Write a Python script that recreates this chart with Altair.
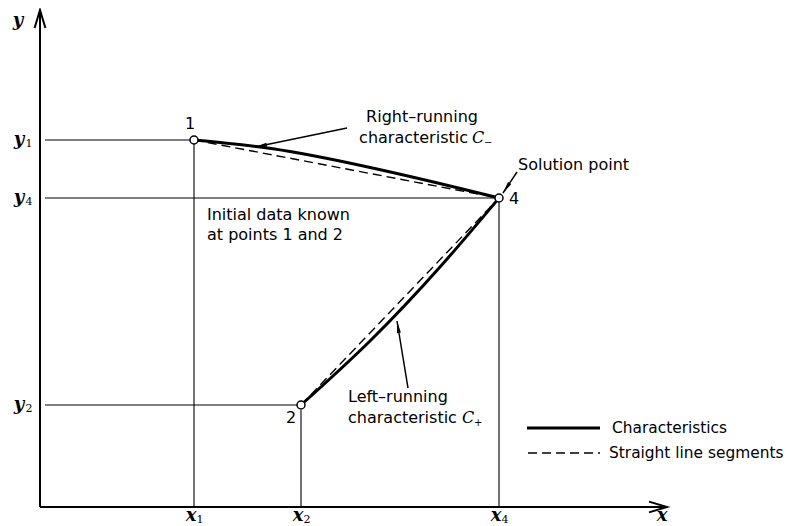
import math
import altair as alt
import pandas as pd

# ---------------- data (drawing units, origin at the axes' corner) ----------------
# characteristic curves
cminus_x = [154, 250, 370, 459]
cminus_y = [367, 355.5, 330.5, 309]
cplus_x = [261, 330, 400, 459]
cplus_y = [102, 166, 240, 309]

# nodes 1, 2, 4
node_labels = ["1", "2", "4"]
node_x = [154, 261, 459]
node_y = [367, 102, 309]

# axis ticks: symbol + subscript
x_tick_subs = ["1", "2", "4"]
x_tick_pos = [154, 261, 459]
y_tick_subs = ["1", "4", "2"]
y_tick_pos = [367, 309, 102]
x_axis_end = 627
y_axis_end = 497

# ---------------- helpers ----------------
XD = [-32, 747]
YD = [-19, 499]
W, H = 779, 518


def X(f="x"):
    return alt.X(f"{f}:Q", scale=alt.Scale(domain=XD, nice=False, zero=False), axis=None)


def Y(f="y"):
    return alt.Y(f"{f}:Q", scale=alt.Scale(domain=YD, nice=False, zero=False), axis=None)


def segs(rows, **kw):
    df = pd.DataFrame(rows, columns=["x", "y", "x2", "y2"])
    return alt.Chart(df).mark_rule(color="black", **kw).encode(
        x=X(), y=Y(), x2=alt.X2("x2:Q"), y2=alt.Y2("y2:Q")
    )


def head(x0, y0, x1, y1, L):
    dx, dy = x1 - x0, y1 - y0
    n = math.hypot(dx, dy)
    ux, uy = dx / n, dy / n
    return dict(x=x1 - ux * L / 2, y=y1 - uy * L / 2,
                angle=math.degrees(math.atan2(ux, uy)) % 360)


# ---------------- axes ----------------
axes = segs([[0, 0, x_axis_end, 0], [0, 0, 0, y_axis_end]], strokeWidth=2)
axis_heads = alt.Chart(pd.DataFrame([
    head(0, 0, x_axis_end, 0, 18), head(0, 0, 0, y_axis_end, 18)
])).mark_point(shape="M-0.6,1L0,-1L0.6,1", filled=False, size=324,
               color="black", strokeWidth=2, opacity=1).encode(
    x=X(), y=Y(), angle=alt.Angle("angle:Q", scale=None))

# ---------------- guide lines ----------------
guide_rows = []
for yv, xv in zip([node_y[0], node_y[2], node_y[1]], [node_x[0], node_x[2], node_x[1]]):
    guide_rows.append([5, yv, xv, yv])
guide_rows.append([node_x[0], node_y[0], node_x[0], 0])
guide_rows.append([node_x[1], node_y[1] - 5, node_x[1], 0])
guide_rows.append([node_x[2], node_y[2], node_x[2], 0])
guides = segs(guide_rows, strokeWidth=1.1)

# ---------------- characteristics ----------------
cm = pd.DataFrame({"x": cminus_x, "y": cminus_y})
cp = pd.DataFrame({"x": cplus_x, "y": cplus_y})
solid_m = alt.Chart(cm).mark_line(color="black", strokeWidth=3, interpolate="natural").encode(x=X(), y=Y(), order="x:Q")
solid_p = alt.Chart(cp).mark_line(color="black", strokeWidth=3, interpolate="natural").encode(x=X(), y=Y(), order="x:Q")
dashed = segs([[node_x[0], node_y[0], node_x[2], node_y[2]],
               [node_x[1], node_y[1], node_x[2], node_y[2]]],
              strokeWidth=1.4, strokeDash=[9, 5])

# ---------------- annotation arrows ----------------
arrows = [(307, 379, 215, 360), (477, 335, 463, 314), (368, 119, 357, 186)]
arrow_lines = segs([list(a) for a in arrows], strokeWidth=1.5)
arrow_heads = alt.Chart(pd.DataFrame([head(*a, 12) for a in arrows])).mark_point(
    shape="M0,-1L0.33,1L-0.33,1Z", filled=True, size=144, color="black", opacity=1
).encode(x=X(), y=Y(), angle=alt.Angle("angle:Q", scale=None))

# ---------------- nodes ----------------
nodes = alt.Chart(pd.DataFrame({"x": node_x, "y": node_y})).mark_point(
    shape="circle", filled=True, fill="white", stroke="black", strokeWidth=1.5,
    size=64, opacity=1).encode(x=X(), y=Y())

# ---------------- legend ----------------
legend_solid = segs([[487, 79, 560, 79]], strokeWidth=3)
legend_dash = segs([[488, 54, 560, 54]], strokeWidth=1.4, strokeDash=[9, 5])

# ---------------- texts ----------------
SANS = "DejaVu Sans"


def texts(rows, align, font=SANS, size=16, **kw):
    df = pd.DataFrame(rows, columns=["t", "x", "y"])
    return alt.Chart(df).mark_text(align=align, baseline="middle", font=font,
                                   fontSize=size, color="black", **kw).encode(
        x=X(), y=Y(), text="t:N")


left_texts = texts([
    ["Solution point", 478, 342],
    ["Initial data known", 167, 292],
    ["at points 1 and 2", 167, 272],
    ["Left\u2013running", 308, 110],
    ["characteristic", 308, 89],
    ["4", 469, 308],
], "left")
legend_texts = texts([
    ["Characteristics", 572, 79],
    ["Straight line segments", 569, 54],
], "left", size=15.4)
center_texts = texts([
    ["Right\u2013running", 382, 390],
    ["1", 150, 383],
    ["2", 251, 89],
], "center")
right_texts = texts([["characteristic", 428, 369]], "right")

# italic C with +/- subscript
c_main = texts([["C", 432, 369], ["C", 422, 89]], "left",
               font="DejaVu Serif", size=16, fontStyle="italic")
c_subs = texts([["\u2212", 444, 364], ["+", 434, 84]], "left",
               font="DejaVu Sans", size=10)

# math tick labels: symbol + subscript
base_rows = [["y", -21, p] for p in y_tick_pos]
base_rows += [["x", p - 3, -9] for p in x_tick_pos]
base_rows += [["y", -22, 486], ["x", 622, -9]]
math_base = texts(base_rows, "center", font="DejaVu Serif", size=18,
                  fontStyle="italic", fontWeight="bold")
sub_rows = [[s, -11, p - 4] for s, p in zip(y_tick_subs, y_tick_pos)]
sub_rows += [[s, p + 6, -13] for s, p in zip(x_tick_subs, x_tick_pos)]
math_subs = texts(sub_rows, "center", font="DejaVu Serif", size=11)

chart = alt.layer(
    guides, axes, axis_heads, dashed, solid_m, solid_p, arrow_lines, arrow_heads,
    nodes, legend_solid, legend_dash, left_texts, legend_texts, center_texts,
    right_texts, c_main, c_subs, math_base, math_subs
).properties(
    width=W, height=H, padding=0, autosize=alt.AutoSizeParams(type="none"),
    background="white"
).configure_view(stroke=None)

chart.save("out.html", embed_options={"renderer": "svg", "actions": False})
